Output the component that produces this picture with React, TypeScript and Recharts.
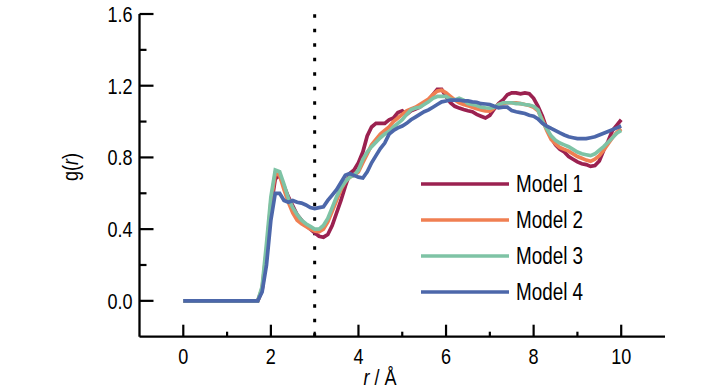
import React from 'react';
import { LineChart, Line, XAxis, YAxis, ReferenceLine, Legend } from 'recharts';

// r grid (Å) and g(r) for each model
const rValues = [
  0, 1.7, 1.8, 1.9, 2.0, 2.1, 2.2, 2.3, 2.4, 2.5, 2.6, 2.7, 2.8, 2.9, 3.0, 3.1, 3.2, 3.3, 3.4, 3.5,
  3.6, 3.7, 3.8, 3.9, 4.0, 4.1, 4.2, 4.3, 4.4, 4.5, 4.6, 4.7, 4.8, 4.9, 5.0, 5.1, 5.2, 5.3, 5.4,
  5.5, 5.6, 5.7, 5.8, 5.9, 6.0, 6.1, 6.2, 6.3, 6.4, 6.5, 6.6, 6.7, 6.8, 6.9, 7.0, 7.1, 7.2, 7.3,
  7.4, 7.5, 7.6, 7.7, 7.8, 7.9, 8.0, 8.1, 8.2, 8.3, 8.4, 8.5, 8.6, 8.7, 8.8, 8.9, 9.0, 9.1, 9.2,
  9.3, 9.4, 9.5, 9.6, 9.7, 9.8, 9.9, 10.0,
];

const model1 = [
  0, 0, 0.06, 0.25, 0.52, 0.68, 0.7, 0.64, 0.58, 0.53, 0.48, 0.45, 0.42, 0.4, 0.38, 0.36, 0.355, 0.37, 0.42, 0.49,
  0.56, 0.64, 0.71, 0.73, 0.77, 0.83, 0.92, 0.97, 0.99, 0.99, 0.99, 1.01, 1.02, 1.05, 1.06, 1.04, 1.06, 1.07, 1.08,
  1.1, 1.12, 1.15, 1.18, 1.18, 1.14, 1.105, 1.085, 1.075, 1.067, 1.06, 1.055, 1.04, 1.03, 1.02, 1.035, 1.07, 1.1, 1.12,
  1.15, 1.16, 1.16, 1.155, 1.16, 1.155, 1.13, 1.085, 1.03, 0.96, 0.91, 0.87, 0.845, 0.83, 0.805, 0.79, 0.775, 0.765, 0.76,
  0.75, 0.755, 0.78, 0.84, 0.89, 0.95, 0.98, 1.01,
];

const model2 = [
  0, 0, 0.07, 0.28, 0.55, 0.71, 0.7, 0.62, 0.55, 0.49, 0.45, 0.43, 0.415, 0.4, 0.39, 0.385, 0.4, 0.44, 0.5, 0.56,
  0.62, 0.665, 0.69, 0.7, 0.72, 0.77, 0.82, 0.87, 0.9, 0.93, 0.95, 0.97, 1.0, 1.02, 1.04, 1.06, 1.07, 1.08, 1.095,
  1.11, 1.125, 1.15, 1.17, 1.175, 1.16, 1.14, 1.12, 1.105, 1.095, 1.088, 1.08, 1.072, 1.065, 1.06, 1.058, 1.075, 1.095, 1.1,
  1.105, 1.105, 1.105, 1.1, 1.095, 1.09, 1.08, 1.06, 1.01, 0.95, 0.9, 0.875, 0.855, 0.845, 0.835, 0.82, 0.805, 0.795, 0.785,
  0.778, 0.79, 0.81, 0.84, 0.875, 0.91, 0.94, 0.96,
];

const model3 = [
  0, 0, 0.08, 0.32, 0.58, 0.73, 0.72, 0.65, 0.57, 0.52, 0.48, 0.45, 0.43, 0.415, 0.4, 0.4, 0.42, 0.46, 0.52, 0.58,
  0.63, 0.665, 0.69, 0.7, 0.73, 0.79, 0.83, 0.86, 0.885, 0.91, 0.93, 0.945, 0.97, 0.99, 1.01, 1.04, 1.065, 1.075, 1.08,
  1.095, 1.11, 1.13, 1.14, 1.14, 1.14, 1.125, 1.12, 1.13, 1.12, 1.1, 1.095, 1.09, 1.08, 1.077, 1.075, 1.08, 1.095, 1.105,
  1.105, 1.105, 1.1, 1.1, 1.095, 1.092, 1.085, 1.065, 1.0, 0.96, 0.92, 0.895, 0.88, 0.87, 0.86, 0.845, 0.83, 0.82, 0.815,
  0.81, 0.82, 0.84, 0.86, 0.885, 0.91, 0.935, 0.95,
];

const model4 = [
  0, 0, 0.05, 0.2, 0.45, 0.6, 0.6, 0.56, 0.55, 0.56, 0.55, 0.545, 0.535, 0.52, 0.515, 0.52, 0.525, 0.56, 0.59, 0.62,
  0.66, 0.7, 0.71, 0.7, 0.69, 0.685, 0.72, 0.77, 0.81, 0.85, 0.88, 0.93, 0.95, 0.965, 0.975, 0.99, 1.01, 1.025, 1.04,
  1.055, 1.065, 1.08, 1.095, 1.11, 1.115, 1.12, 1.12, 1.12, 1.115, 1.115, 1.11, 1.108, 1.1, 1.098, 1.095, 1.085, 1.077, 1.08,
  1.08, 1.062, 1.055, 1.05, 1.045, 1.035, 1.03, 1.015, 0.99, 0.975, 0.962, 0.95, 0.937, 0.925, 0.915, 0.91, 0.905, 0.905, 0.905,
  0.91, 0.915, 0.925, 0.935, 0.945, 0.955, 0.965, 0.975,
];

const xTicks = [0, 1, 2, 3, 4, 5, 6, 7, 8, 9, 10];
const yTicks = [0, 0.2, 0.4, 0.6, 0.8, 1.0, 1.2, 1.4, 1.6];
const cutoff = 3;

const series = [
  { key: 'm1', name: 'Model 1', values: model1, color: '#9B2150' },
  { key: 'm2', name: 'Model 2', values: model2, color: '#F07F52' },
  { key: 'm3', name: 'Model 3', values: model3, color: '#7EC3A5' },
  { key: 'm4', name: 'Model 4', values: model4, color: '#4C67AA' },
];

const data = rValues.map((r, i) => {
  const row: Record<string, number> = { r };
  series.forEach((s) => {
    row[s.key] = s.values[i];
  });
  return row;
});

const FONT = '"Liberation Sans", Arial, sans-serif';
const AXIS_W = 2.3;
const SQUEEZE = 0.82; // the original figure's lettering is narrow

// text drawn at (x, y), squeezed horizontally; rotate is optional
const NarrowText = ({ x, y, rotate = 0, size = 22, anchor = 'middle', dy = '0', children }: any) => (
  <text
    transform={`translate(${x} ${y}) rotate(${rotate}) scale(${SQUEEZE} 1)`}
    dy={dy}
    textAnchor={anchor}
    fontSize={size}
    fontFamily={FONT}
    fill="#000"
  >
    {children}
  </text>
);

const XTick = (props: any) => {
  const { x, y, payload, index } = props;
  const major = index % 2 === 0;
  return (
    <g>
      <line x1={x} x2={x} y1={y} y2={y - (major ? 12 : 5)} stroke="#000" strokeWidth={2.2} />
      {major && (
        <NarrowText x={x} y={y + 11} dy="0.72em">
          {payload.value}
        </NarrowText>
      )}
    </g>
  );
};

const YTick = (props: any) => {
  const { x, y, payload, index } = props;
  const major = index % 2 === 0;
  return (
    <g>
      <line x1={x} x2={x + (major ? 14 : 7)} y1={y} y2={y} stroke="#000" strokeWidth={2.2} />
      {major && (
        <NarrowText x={x - 7} y={y} dy="0.36em" anchor="end">
          {payload.value.toFixed(1)}
        </NarrowText>
      )}
    </g>
  );
};

const ModelLegend = () => (
  <svg width={200} height={150}>
    {series.map((s, i) => (
      <g key={s.key}>
        <line x1={0} x2={88} y1={18 + i * 36} y2={18 + i * 36} stroke={s.color} strokeWidth={3.5} />
        <NarrowText x={95} y={18 + i * 36} dy="0.36em" size={23} anchor="start">
          {s.name}
        </NarrowText>
      </g>
    ))}
  </svg>
);

export default function App() {
  return (
    <div style={{ position: 'absolute', left: 0, top: 0 }}>
      <LineChart width={728} height={390} data={data} margin={{ top: 14, right: 63, bottom: 23.3, left: 79.5 }}>
        <XAxis
          dataKey="r"
          type="number"
          domain={[-1, 11]}
          ticks={xTicks}
          allowDataOverflow
          height={30}
          tickSize={0}
          tickMargin={0}
          tickLine={false}
          tick={<XTick />}
          axisLine={{ stroke: '#000', strokeWidth: AXIS_W }}
          label={{
            content: () => (
              <NarrowText x={380} y={385}>
                <tspan fontStyle="italic">r</tspan> / Å
              </NarrowText>
            ),
          }}
        />
        <XAxis
          xAxisId="top"
          orientation="top"
          type="number"
          domain={[-1, 11]}
          height={0}
          tick={false}
          tickLine={false}
          axisLine={{ stroke: '#000', strokeWidth: AXIS_W }}
        />
        <YAxis
          type="number"
          domain={[-0.2, 1.6]}
          ticks={yTicks}
          allowDataOverflow
          width={60}
          tickSize={0}
          tickMargin={0}
          tickLine={false}
          tick={<YTick />}
          axisLine={{ stroke: '#000', strokeWidth: AXIS_W }}
          label={{
            content: () => (
              <NarrowText x={70} y={167} rotate={-90} dy="0.36em">
                g(<tspan fontStyle="italic">r</tspan>)
              </NarrowText>
            ),
          }}
        />
        <YAxis
          yAxisId="right"
          orientation="right"
          type="number"
          domain={[-0.2, 1.6]}
          width={0}
          tick={false}
          tickLine={false}
          axisLine={{ stroke: '#000', strokeWidth: AXIS_W }}
        />
        <ReferenceLine x={cutoff} stroke="#000" strokeWidth={3} strokeDasharray="3.5 11" />
        {series.map((s) => (
          <Line
            key={s.key}
            type="linear"
            dataKey={s.key}
            name={s.name}
            stroke={s.color}
            strokeWidth={3.7}
            dot={false}
            isAnimationActive={false}
          />
        ))}
        <Legend
          layout="vertical"
          align="center"
          verticalAlign="middle"
          content={<ModelLegend />}
          wrapperStyle={{ left: 421, top: 166, width: 200 }}
        />
      </LineChart>
    </div>
  );
}
